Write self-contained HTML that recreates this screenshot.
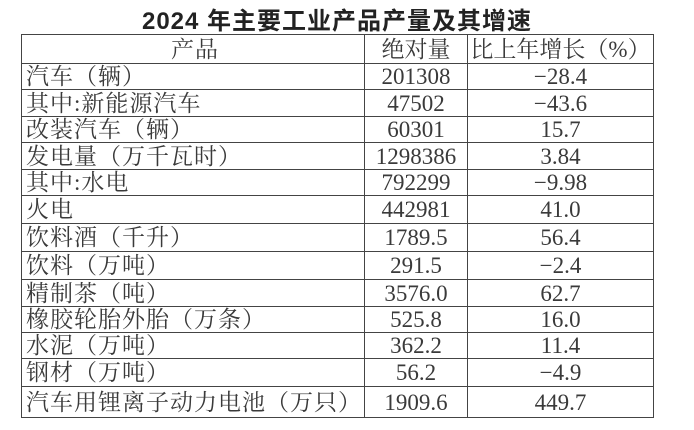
<!DOCTYPE html>
<html><head><meta charset="utf-8"><style>
body{margin:0;width:694px;height:430px;background:#fff;position:relative;overflow:hidden;font-family:"Liberation Serif","Noto Serif CJK SC",serif;color:#3a3a3a}
.t{position:absolute;left:0;width:674px;top:1px;text-align:center;font-family:"Liberation Sans","Noto Sans CJK SC",sans-serif;font-size:24px;color:#222;letter-spacing:1px;font-weight:bold}
table{position:absolute;left:21px;top:34px;border-collapse:collapse;width:633px}
td{border:1.5px solid #444;padding:0;font-size:23px;line-height:1;white-space:nowrap}
td:first-child{width:338px;padding-left:4px;letter-spacing:1px}
td:nth-child(2){width:102px;text-align:center}
td:nth-child(3){text-align:center}
</style></head><body>
<div class="t">2024 年主要工业产品产量及其增速</div>
<table>
<tr style="height:29px"><td style="text-align:center">产品</td><td>绝对量</td><td>比上年增长（%）</td></tr>
<tr style="height:26px"><td>汽车（辆）</td><td>201308</td><td>−28.4</td></tr>
<tr style="height:27px"><td>其中:新能源汽车</td><td>47502</td><td>−43.6</td></tr>
<tr style="height:26px"><td>改装汽车（辆）</td><td>60301</td><td>15.7</td></tr>
<tr style="height:27px"><td>发电量（万千瓦时）</td><td>1298386</td><td>3.84</td></tr>
<tr style="height:26px"><td>其中:水电</td><td>792299</td><td>−9.98</td></tr>
<tr style="height:28px"><td>火电</td><td>442981</td><td>41.0</td></tr>
<tr style="height:28px"><td>饮料酒（千升）</td><td>1789.5</td><td>56.4</td></tr>
<tr style="height:28px"><td>饮料（万吨）</td><td>291.5</td><td>−2.4</td></tr>
<tr style="height:27px"><td>精制茶（吨）</td><td>3576.0</td><td>62.7</td></tr>
<tr style="height:26px"><td>橡胶轮胎外胎（万条）</td><td>525.8</td><td>16.0</td></tr>
<tr style="height:26px"><td>水泥（万吨）</td><td>362.2</td><td>11.4</td></tr>
<tr style="height:28px"><td>钢材（万吨）</td><td>56.2</td><td>−4.9</td></tr>
<tr style="height:31px"><td>汽车用锂离子动力电池（万只）</td><td>1909.6</td><td>449.7</td></tr>
</table>
</body></html>
